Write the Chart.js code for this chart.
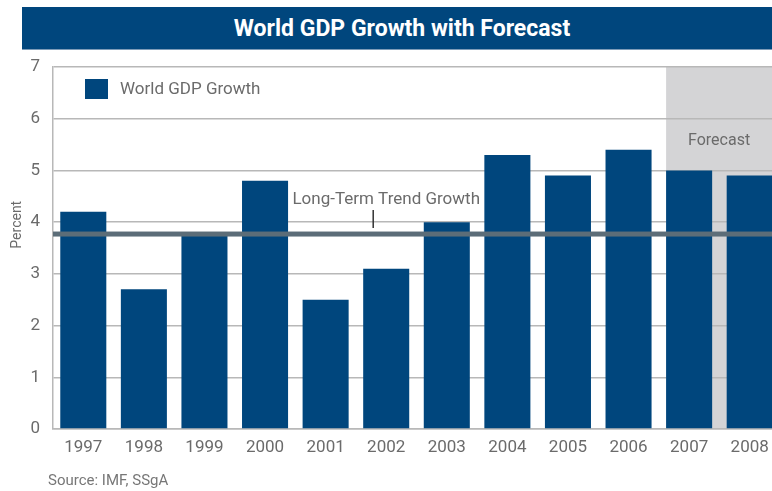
<!DOCTYPE html>
<html>
<head>
<meta charset="utf-8">
<script src="https://cdn.jsdelivr.net/npm/chart.js@4/dist/chart.umd.min.js"></script>
<style>
  html, body { margin: 0; padding: 0; width: 772px; height: 491px; overflow: hidden; background: #fff; }
  #wrap { position: absolute; left: 0; top: 0; width: 780px; height: 491px; }
  #banner {
    position: absolute; left: 22px; top: 7px; width: 760px; height: 43px;
    background: #00467d; color: #fff; font: bold 23px Roboto, sans-serif;
    line-height: 43px; text-align: center; box-sizing: border-box;
    border-bottom: 1px solid #7d9bb8;
  }
  #source {
    position: absolute; left: 48px; top: 471px; font: 15px Roboto, sans-serif; color: #777;
  }
</style>
</head>
<body>
<div id="wrap"><canvas id="chart" width="780" height="491"></canvas></div>
<div id="banner">World GDP Growth with Forecast</div>
<div id="source">Source: IMF, SSgA</div>
<script>
// chart values
const years = ['1997', '1998', '1999', '2000', '2001', '2002', '2003', '2004', '2005', '2006', '2007', '2008'];
const gdpGrowth = [4.2, 2.7, 3.8, 4.8, 2.5, 3.1, 4.0, 5.3, 4.9, 5.4, 5.0, 4.9];
const forecastFrom = '2007';
const trendGrowth = 3.77;
const trendLabel = 'Long-Term Trend Growth';
const trendLabelAt = '2002';
const forecastLabel = 'Forecast';
const yTicks = [0, 1, 2, 3, 4, 5, 6, 7];
const yTitle = 'Percent';

const barColor = '#00467d';
const textColor = '#6b6b6b';
const gridColor = '#b8b8b8';
const fontFamily = 'Roboto, sans-serif';

// grey forecast box, drawn under the grid
const forecastPlugin = {
  id: 'forecastBox',
  beforeDraw(chart) {
    const { ctx, chartArea } = chart;
    const meta = chart.getDatasetMeta(0);
    const bar = meta.data[years.indexOf(forecastFrom)];
    if (!bar) return;
    const x0 = bar.x - bar.width / 2;
    ctx.save();
    ctx.fillStyle = '#d4d4d6';
    ctx.fillRect(x0, chartArea.top, chartArea.right - x0, chartArea.bottom - chartArea.top);
    ctx.fillStyle = textColor;
    ctx.font = '16px ' + fontFamily;
    ctx.textAlign = 'center';
    ctx.textBaseline = 'middle';
    ctx.fillText(forecastLabel, x0 + 53, chart.scales.y.getPixelForValue(5.57));
    ctx.restore();
  }
};

// trend line over the bars, plus its label, the legend and the y title
const overlayPlugin = {
  id: 'overlay',
  afterDatasetsDraw(chart) {
    const { ctx, chartArea, scales } = chart;
    const y = scales.y.getPixelForValue(trendGrowth);
    ctx.save();
    ctx.fillStyle = '#5c6d78';
    ctx.fillRect(chartArea.left, y - 2.5, chartArea.right - chartArea.left, 5);

    const lx = scales.x.getPixelForValue(years.indexOf(trendLabelAt));
    ctx.fillStyle = textColor;
    ctx.font = '17px ' + fontFamily;
    ctx.textAlign = 'center';
    ctx.textBaseline = 'middle';
    ctx.fillText(trendLabel, lx, y - 34);
    ctx.strokeStyle = '#333';
    ctx.lineWidth = 1.5;
    ctx.beginPath();
    ctx.moveTo(lx - 13, y - 24);
    ctx.lineTo(lx - 13, y - 6);
    ctx.stroke();

    // legend in the top left of the plot
    const bx = chartArea.left + 32, by = chartArea.top + 12;
    ctx.fillStyle = barColor;
    ctx.fillRect(bx, by, 23, 20);
    ctx.fillStyle = textColor;
    ctx.font = '17px ' + fontFamily;
    ctx.textAlign = 'left';
    ctx.fillText(chart.data.datasets[0].label, bx + 35, by + 11);

    // rotated axis title
    ctx.translate(17, scales.y.getPixelForValue(3.95));
    ctx.rotate(-Math.PI / 2);
    ctx.font = '14px ' + fontFamily;
    ctx.textAlign = 'center';
    ctx.fillText(yTitle, 0, 0);
    ctx.restore();
  }
};

new Chart(document.getElementById('chart'), {
  type: 'bar',
  data: {
    labels: years,
    datasets: [{
      label: 'World GDP Growth',
      data: gdpGrowth,
      backgroundColor: barColor,
      borderWidth: 0,
      categoryPercentage: 1,
      barPercentage: 0.76
    }]
  },
  options: {
    responsive: false,
    animation: false,
    layout: { padding: { top: 67, right: 0, bottom: 0, left: 0 } },
    plugins: {
      legend: { display: false },
      tooltip: { enabled: false }
    },
    scales: {
      x: {
        grid: { display: false, drawTicks: false },
        border: { display: true, color: gridColor, width: 1.5 },
        ticks: { color: textColor, font: { family: fontFamily, size: 17 }, padding: 9 },
        afterFit(scale) { scale.height = 62; }
      },
      y: {
        min: 0,
        max: 7,
        afterBuildTicks(scale) { scale.ticks = yTicks.map(v => ({ value: v })); },
        grid: { color: gridColor, lineWidth: 1.5, drawTicks: false },
        border: { display: true, color: gridColor, width: 1.5 },
        ticks: { color: textColor, font: { family: fontFamily, size: 17 }, padding: 13 },
        afterFit(scale) { scale.width = 53; }
      }
    }
  },
  plugins: [forecastPlugin, overlayPlugin]
});
</script>
</body>
</html>
